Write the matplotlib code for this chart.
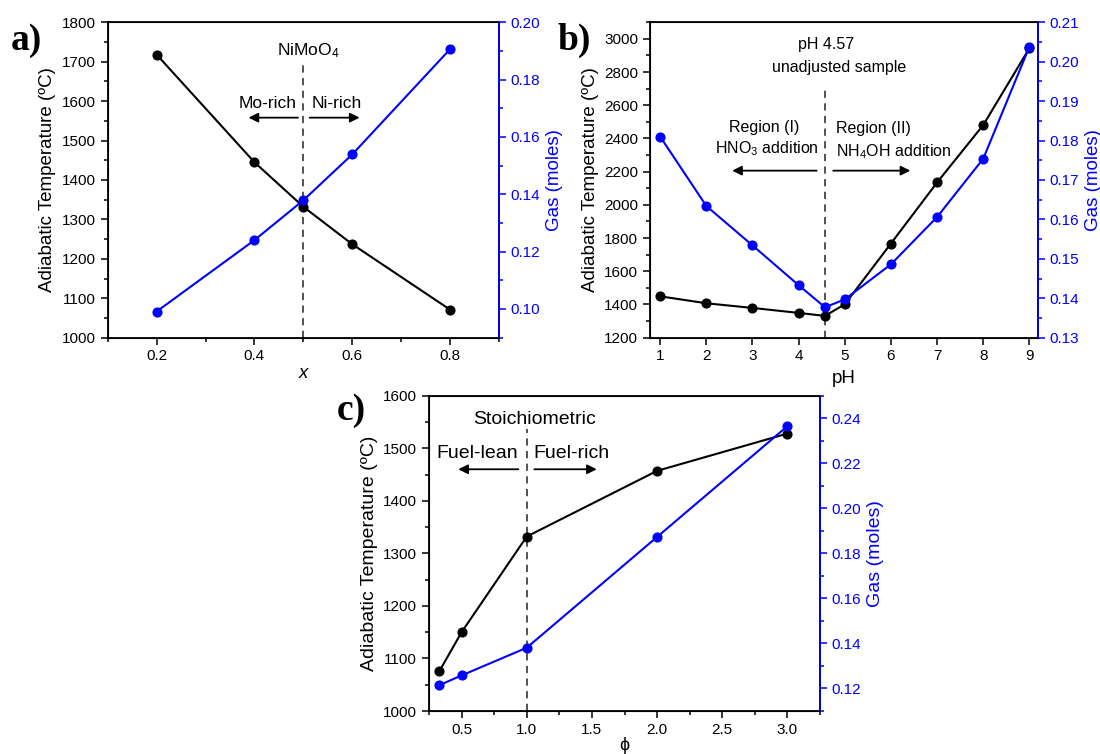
import numpy as np
import matplotlib
matplotlib.use("Agg")
import matplotlib.pyplot as plt
from matplotlib.ticker import MultipleLocator

plt.rcParams['font.family'] = ['Liberation Sans', 'DejaVu Sans']
plt.rcParams['mathtext.fontset'] = 'custom'
plt.rcParams['mathtext.rm'] = 'Liberation Sans'
plt.rcParams['mathtext.it'] = 'Liberation Sans:italic'

BLUE = '#0000ff'

# panel a: NiMoO4 composition
x_a = [0.2, 0.4, 0.5, 0.6, 0.8]
temp_a = [1718, 1445, 1332, 1237, 1071]
gas_a = [0.0991, 0.1240, 0.1379, 0.1539, 0.1906]

# panel b: pH
x_b = [1, 2, 3, 4, 4.57, 5, 6, 7, 8, 9]
temp_b = [1449, 1407, 1379, 1349, 1331, 1401, 1767, 2135, 2481, 2944]
gas_b = [0.1810, 0.1634, 0.1534, 0.1433, 0.1377, 0.1397, 0.1486, 0.1606, 0.1754, 0.2038]

# panel c: fuel ratio phi
x_c = [0.33, 0.5, 1.0, 2.0, 3.0]
temp_c = [1076, 1150, 1332, 1457, 1528]
gas_c = [0.1215, 0.1258, 0.1381, 0.1873, 0.2365]

fig = plt.figure(figsize=(11, 7.54), dpi=100)


def twin_panel(rect, x, temp, gas, xlim, ylim, y2lim, xmaj, xmin, ymaj, ymin, y2maj, y2min,
               tick_fs=11, label_fs=13.5):
    ax = fig.add_axes(rect)
    ax.plot(x, temp, '-o', color='black', ms=6.3, lw=1.5, zorder=3)
    ax.set_xlim(*xlim)
    ax.set_ylim(*ylim)
    ax.xaxis.set_major_locator(MultipleLocator(xmaj))
    if xmin:
        ax.xaxis.set_minor_locator(MultipleLocator(xmin))
    ax.yaxis.set_major_locator(MultipleLocator(ymaj))
    ax.yaxis.set_minor_locator(MultipleLocator(ymin))
    ax.tick_params(which='both', direction='out', labelsize=tick_fs, width=1.1)
    ax.tick_params(which='major', length=5)
    ax.tick_params(which='minor', length=3)
    ax.set_ylabel('Adiabatic Temperature (ºC)', fontsize=label_fs, labelpad=4)
    for s in ax.spines.values():
        s.set_linewidth(1.3)

    ax2 = ax.twinx()
    ax2.plot(x, gas, '-o', color=BLUE, ms=6.3, lw=1.5, zorder=3)
    ax2.set_ylim(*y2lim)
    ax2.yaxis.set_major_locator(MultipleLocator(y2maj))
    ax2.yaxis.set_minor_locator(MultipleLocator(y2min))
    ax2.yaxis.set_major_formatter(plt.FormatStrFormatter('%.2f'))
    ax2.tick_params(which='both', direction='out', labelsize=tick_fs, colors=BLUE, width=1.1)
    ax2.tick_params(which='major', length=5)
    ax2.tick_params(which='minor', length=3)
    ax2.spines['right'].set_color(BLUE)
    ax2.spines['right'].set_linewidth(1.3)
    ax2.set_ylabel('Gas (moles)', fontsize=label_fs, color=BLUE, labelpad=4)
    return ax, ax2


def arrow(ax, x0, x1, y):
    ax.annotate('', xy=(x1, y), xytext=(x0, y),
                arrowprops=dict(arrowstyle='-|>', color='black', lw=1.3,
                                mutation_scale=14, shrinkA=0, shrinkB=0))


DASH = (0, (4, 3))

# ---- a ----
axa, axa2 = twin_panel([0.0979, 0.5522, 0.3557, 0.4183], x_a, temp_a, gas_a,
                       (0.1, 0.9), (1000, 1800), (0.09, 0.20),
                       0.2, 0.1, 100, 50, 0.02, 0.01)
axa.set_xlabel('x', fontsize=13.5, style='italic', labelpad=1)
axa.vlines(0.5, 1000, 1699, colors='#444444', linestyles=DASH, lw=1.3)
axa.text(0.51, 1729, 'NiMoO$_4$', ha='center', va='center', fontsize=12.5)
axa.text(0.487, 1595, 'Mo-rich', ha='right', va='center', fontsize=12.5)
axa.text(0.516, 1595, 'Ni-rich', ha='left', va='center', fontsize=12.5)
arrow(axa, 0.489, 0.388, 1558)
arrow(axa, 0.513, 0.615, 1558)
fig.text(0.010, 0.946, 'a)', fontsize=27, fontweight='bold', family='Liberation Serif', va='center')

# ---- b ----
axb, axb2 = twin_panel([0.5909, 0.5522, 0.3525, 0.4183], x_b, temp_b, gas_b,
                       (0.78, 9.18), (1200, 3100), (0.13, 0.21),
                       1, None, 200, 100, 0.01, 0.005)
axb.set_xlabel('pH', fontsize=13.5, labelpad=5)
axb.vlines(4.57, 1200, 2718, colors='#444444', linestyles=DASH, lw=1.3)
axb.text(4.60, 2964, 'pH 4.57', ha='center', va='center', fontsize=11.5)
axb.text(4.87, 2829, 'unadjusted sample', ha='center', va='center', fontsize=11.5)
axb.text(3.25, 2467, 'Region (I)', ha='center', va='center', fontsize=11.5)
axb.text(3.32, 2337, 'HNO$_3$ addition', ha='center', va='center', fontsize=11.5)
axb.text(5.61, 2457, 'Region (II)', ha='center', va='center', fontsize=11.5)
axb.text(6.06, 2322, 'NH$_4$OH addition', ha='center', va='center', fontsize=11.5)
arrow(axb, 4.39, 2.56, 2206)
arrow(axb, 4.75, 6.42, 2206)
fig.text(0.507, 0.946, 'b)', fontsize=27, fontweight='bold', family='Liberation Serif', va='center')

# ---- c ----
axc, axc2 = twin_panel([0.39, 0.057, 0.3555, 0.4182], x_c, temp_c, gas_c,
                       (0.25, 3.25), (1000, 1600), (0.11, 0.25),
                       0.5, 0.25, 100, 50, 0.02, 0.01, label_fs=14)
axc.set_xlabel('ϕ', fontsize=13, labelpad=0)
axc.vlines(1.0, 1000, 1537, colors='#444444', linestyles=DASH, lw=1.3)
axc.text(1.06, 1554, 'Stoichiometric', ha='center', va='center', fontsize=14)
axc.text(0.935, 1490, 'Fuel-lean', ha='right', va='center', fontsize=14)
axc.text(1.048, 1490, 'Fuel-rich', ha='left', va='center', fontsize=14)
arrow(axc, 0.935, 0.475, 1460)
arrow(axc, 1.058, 1.537, 1460)
fig.text(0.306, 0.455, 'c)', fontsize=27, fontweight='bold', family='Liberation Serif', va='center')

fig.savefig('out.png', dpi=100)
